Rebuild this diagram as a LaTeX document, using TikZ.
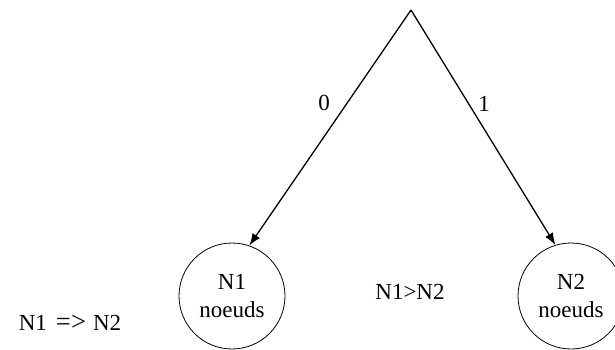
\documentclass[tikz,border=0pt]{standalone}
\usepackage{fontspec}
\setmainfont{Liberation Serif}
\usetikzlibrary{arrows.meta}

\begin{document}
\begin{tikzpicture}[x=1pt,y=1pt,>={Latex[length=12pt,width=9pt]},
  font=\fontsize{23}{28}\selectfont,
  setnode/.style={circle,draw,line width=0.8pt,minimum size=106pt,inner sep=0pt,align=center}]
\useasboundingbox (0,0) rectangle (615,349);
\coordinate (top) at (411,339);
\node[setnode] (n1) at (232,53) {N1\\noeuds};
\node[setnode] (n2) at (571,53) {N2\\noeuds};
\draw[->,line width=1.3pt] (top) -- (n1.71);
\draw[->,line width=1.3pt] (top) -- (n2.107);
\node (lab0) at (324,246) {0};
\node (lab1) at (484,245) {1};
\node (cmp) at (410,57) {N1>N2};
\node (impl) at (70,26) {N1\hspace{9pt}\resizebox{30pt}{!}{=>}\hspace{7pt}N2};
\end{tikzpicture}
\end{document}
